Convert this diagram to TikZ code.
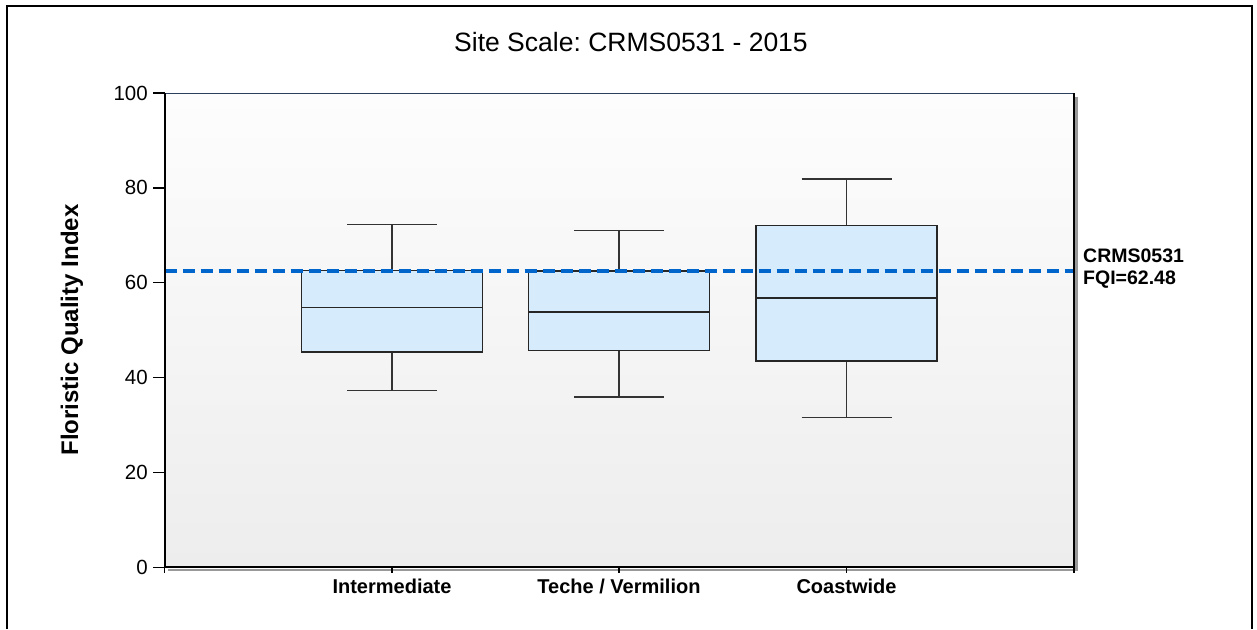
\documentclass[tikz,border=0pt]{standalone}
\usepackage{fontspec}
\setmainfont{Liberation Sans}
\frenchspacing
\definecolor{fqiblue}{RGB}{0,102,204}
\definecolor{boxfill}{RGB}{214,236,252}
\definecolor{frametop}{RGB}{45,65,95}
\definecolor{bgtop}{RGB}{253,253,253}
\definecolor{bgbottom}{RGB}{237,237,237}
\tikzset{
  whisk/.style={draw=black!80, line width=1.5pt},
  qbox/.style={draw=black!85, line width=1.5pt, fill=boxfill},
  axistick/.style={draw=black, line width=1.4pt},
  refline/.style={draw=fqiblue, line width=4pt, dash pattern=on 12pt off 6pt},
  ticklabel/.style={font=\fontsize{20.5}{22}\selectfont, inner sep=0pt},
  catlabel/.style={font=\bfseries\fontsize{20}{22}\selectfont, inner sep=0pt},
  sidelabel/.style={font=\bfseries\fontsize{19.5}{22}\selectfont, inner sep=0pt, align=left},
}
% box with whiskers: x, min, q1, median, q3, max
\newcommand{\fqibox}[6]{%
  \draw[whisk] (#1,#2) -- (#1,#3) (#1,#5) -- (#1,#6);
  \draw[whisk] (#1-45,#2) -- (#1+45,#2) (#1-45,#6) -- (#1+45,#6);
  \draw[qbox] (#1-90.5,#3) rectangle (#1+90.5,#5);
  \draw[qbox, fill=none] (#1-90.5,#4) -- (#1+90.5,#4);
}
\begin{document}
\begin{tikzpicture}[x=1pt, y=-1pt]
\useasboundingbox (0,0) rectangle (1257,629);
\fill[white] (0,0) rectangle (1257,629);

% outer border
\draw[black, line width=2pt] (7,629) -- (7,6) -- (1252,6) -- (1252,629);

% title
\node[font=\fontsize{26.5}{30}\selectfont, inner sep=0pt] (title) at (631,42) {Site Scale: CRMS0531 - 2015};

% plot area corners
\coordinate (tl) at (164.5,93.3);
\coordinate (br) at (1074,567.3);

% drop shadow of the plot frame
\draw[black!40, line width=2.5pt] (1076.5,96.5) -- (1076.5,570) -- (167.5,570);

% plot background
\shade[top color=bgtop, bottom color=bgbottom] (tl) rectangle (br);

\begin{scope}[shift={(0,567.3)}, y=4.743pt]
  % boxes
  \fqibox{392}{37.3}{45.4}{54.8}{62.6}{72.3}
  \fqibox{619}{35.9}{45.7}{53.8}{62.5}{71.0}
  \fqibox{846.5}{31.6}{43.5}{56.8}{72.1}{81.9}

  % site reference line
  \coordinate (refL) at (164.5,62.48);
  \coordinate (refR) at (1074,62.48);
  \draw[refline] (refL) -- (refR);

  % y ticks and labels
  \foreach \v in {0,20,...,100} {
    \draw[axistick] (153,\v) -- (164.5,\v);
    \node[ticklabel, anchor=east] (yl\v) at (148,\v) {\v};
  }
  % x ticks
  \foreach \xx in {164.5,392,619,846.5,1074} {
    \draw[axistick] (\xx,0) -- (\xx,-1.3);
  }
\end{scope}

% plot frame
\draw[frametop, line width=1.5pt] (tl) -- (tl -| br);
\draw[black, line width=2pt] (tl -| br) -- (br) -- (br -| tl) -- (tl);

% category labels
\node[catlabel] (c1) at (392,586) {Intermediate};
\node[catlabel] (c2) at (619,586) {Teche / Vermilion};
\node[catlabel] (c3) at (846.5,586) {Coastwide};

% axis title
\node[font=\bfseries\fontsize{24}{26}\selectfont, inner sep=0pt, rotate=90] (ytitle) at (72,330) {Floristic Quality Index};

% reference line label
\node[sidelabel, anchor=west] (reflabel) at (1083,269) {CRMS0531\\FQI=62.48};
\end{tikzpicture}
\end{document}
